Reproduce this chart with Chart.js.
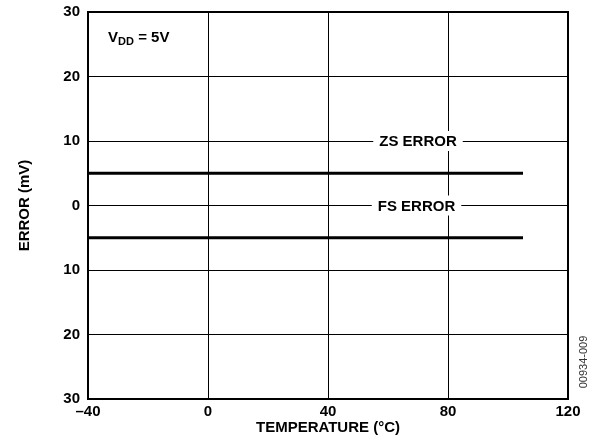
<!DOCTYPE html>
<html>
<head>
<meta charset="utf-8">
<script src="https://cdn.jsdelivr.net/npm/chart.js@4"></script>
<style>
  html, body { margin: 0; padding: 0; background: #fff; }
  #wrap { width: 594px; height: 441px; position: relative; }
</style>
</head>
<body>
<div id="wrap"><canvas id="errChart"></canvas></div>
<script>
const tempRange = [-40, 105];
const zsError = [5, 5];
const fsError = [-5, -5];
const xTicks = [-40, 0, 40, 80, 120];
const yTicks = [-30, -20, -10, 0, 10, 20, 30];
const seriesLabels = ["ZS ERROR", "FS ERROR"];
const labelAt = [[70, 10], [69.5, 0]];

const FONT = "'Liberation Sans', Arial, sans-serif";

function toPoints(ys) {
  return tempRange.map((x, i) => ({ x: x, y: ys[i] }));
}

// frame, boxed series labels, VDD note, figure id
const annotations = {
  id: "annotations",
  afterDraw(chart) {
    const { ctx, chartArea: a, scales: { x, y } } = chart;
    ctx.save();
    ctx.strokeStyle = "#000";
    ctx.lineWidth = 2;
    ctx.strokeRect(a.left, a.top, a.right - a.left, a.bottom - a.top);

    ctx.font = "bold 15px " + FONT;
    ctx.textAlign = "center";
    ctx.textBaseline = "middle";
    seriesLabels.forEach((txt, i) => {
      const px = x.getPixelForValue(labelAt[i][0]);
      const py = y.getPixelForValue(labelAt[i][1]);
      const w = ctx.measureText(txt).width;
      ctx.fillStyle = "#fff";
      ctx.fillRect(px - w / 2 - 6, py - 10, w + 12, 20);
      ctx.fillStyle = "#000";
      ctx.fillText(txt, px, py + 1);
    });

    // V_DD = 5V
    let vx = x.getPixelForValue(-33.3);
    const vy = y.getPixelForValue(26);
    ctx.textAlign = "left";
    ctx.textBaseline = "middle";
    ctx.font = "bold 15px " + FONT;
    ctx.fillText("V", vx, vy);
    vx += ctx.measureText("V").width;
    ctx.font = "bold 11px " + FONT;
    ctx.fillText("DD", vx, vy + 4);
    vx += ctx.measureText("DD").width;
    ctx.font = "bold 15px " + FONT;
    ctx.fillText(" = 5V", vx, vy);

    // figure number
    ctx.translate(584, 362);
    ctx.rotate(-Math.PI / 2);
    ctx.font = "11px " + FONT;
    ctx.fillStyle = "#333";
    ctx.textAlign = "center";
    ctx.fillText("00934-009", 0, 0);
    ctx.restore();
  }
};

new Chart(document.getElementById("errChart"), {
  type: "line",
  data: {
    datasets: [
      { label: seriesLabels[0], data: toPoints(zsError) },
      { label: seriesLabels[1], data: toPoints(fsError) }
    ]
  },
  options: {
    responsive: true,
    maintainAspectRatio: false,
    animation: false,
    layout: { padding: { top: 12, right: 26, left: 0, bottom: 0 } },
    elements: {
      line: { borderColor: "#000", borderWidth: 3, tension: 0 },
      point: { radius: 0 }
    },
    plugins: { legend: { display: false }, tooltip: { enabled: false } },
    scales: {
      x: {
        type: "linear",
        min: xTicks[0],
        max: xTicks[xTicks.length - 1],
        afterBuildTicks: s => { s.ticks = xTicks.map(v => ({ value: v })); },
        afterFit: s => { s.height = 42; s.paddingLeft = 0; s.paddingRight = 0; },
        grid: { color: "#000", lineWidth: 1, drawTicks: false },
        border: { display: false },
        ticks: {
          padding: 4,
          color: "#000",
          font: { family: FONT, size: 15, weight: "bold" },
          callback: v => String(v).replace("-", "\u2013")
        },
        title: {
          display: true,
          text: "TEMPERATURE (\u00B0C)",
          color: "#000",
          font: { family: FONT, size: 15, weight: "bold" },
          padding: { top: 3, bottom: 4 }
        }
      },
      y: {
        type: "linear",
        min: yTicks[0],
        max: yTicks[yTicks.length - 1],
        afterBuildTicks: s => { s.ticks = yTicks.map(v => ({ value: v })); },
        afterFit: s => { s.width = 88; s.paddingTop = 0; s.paddingBottom = 0; },
        grid: { color: "#000", lineWidth: 1, drawTicks: false },
        border: { display: false },
        ticks: {
          padding: 8,
          color: "#000",
          font: { family: FONT, size: 15, weight: "bold" },
          callback: v => String(Math.abs(v))
        },
        title: {
          display: true,
          text: "ERROR (mV)",
          color: "#000",
          font: { family: FONT, size: 15, weight: "bold" },
          padding: { top: 16, bottom: 0 }
        }
      }
    }
  },
  plugins: [annotations]
});
</script>
</body>
</html>
